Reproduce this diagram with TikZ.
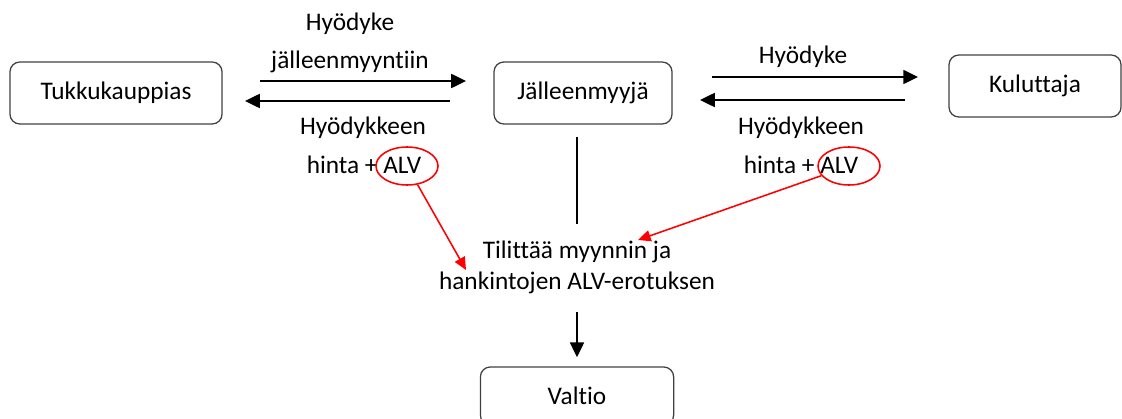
\documentclass[tikz,border=0pt]{standalone}
\usepackage{fontspec}
\setmainfont[Ligatures=NoCommon]{Carlito}
\usetikzlibrary{arrows.meta, shapes.geometric}

\tikzset{
  party/.style={draw=black!75, line width=0.9pt, rounded corners=7pt, minimum height=1.55cm, font=\fontsize{18}{22}\selectfont},
  lbl/.style={font=\fontsize{18}{22}\selectfont},
  flow/.style={-{Triangle[length=10.5pt,width=10pt]}, line width=1.1pt},
  vatring/.style={draw=red, line width=1.1pt, ellipse, minimum width=1.55cm, minimum height=0.95cm, inner sep=0pt},
  vatarrow/.style={red, line width=1.1pt, -{Triangle[length=9pt,width=8pt]}}
}

\begin{document}
\begin{tikzpicture}[x=0.025cm, y=-0.025cm]
  \useasboundingbox (0,0) rectangle (1122,419);

  \node[party, minimum width=5.3cm] at (116, 93) (tukku) {Tukkukauppias};
  \node[party, minimum width=4.45cm] at (583, 93) (jalleen) {Jälleenmyyjä};
  \node[party, minimum width=4.3cm] at (1035, 86) (kuluttaja) {Kuluttaja};
  \node[party, minimum width=4.83cm, minimum height=1.45cm] at (577, 396) (valtio) {Valtio};

  % wholesaler <-> reseller
  \node[lbl] at (350, 24) (hyo1) {Hyödyke};
  \node[lbl] at (350, 62) (myynti1) {jälleenmyyntiin};
  \node[lbl] at (363, 128) (hyok1) {Hyödykkeen};
  \node[lbl] at (364, 165) (hinta1) {hinta + ALV};
  \node[vatring] at (407, 166) (alv1) {};

  \coordinate (t1a) at (260, 81);
  \coordinate (t1b) at (466, 81);
  \coordinate (t2a) at (450, 101);
  \coordinate (t2b) at (245, 101);
  \draw[flow] (t1a) -- (t1b);
  \draw[flow] (t2a) -- (t2b);

  % reseller <-> consumer
  \node[lbl] at (803, 57) (hyo2) {Hyödyke};
  \node[lbl] at (801, 128) (hyok2) {Hyödykkeen};
  \node[lbl] at (801, 165) (hinta2) {hinta + ALV};
  \node[vatring] at (849, 166) (alv2) {};

  \coordinate (k1a) at (712, 77);
  \coordinate (k1b) at (918, 77);
  \coordinate (k2a) at (905, 100);
  \coordinate (k2b) at (700, 100);
  \draw[flow] (k1a) -- (k1b);
  \draw[flow] (k2a) -- (k2b);

  % VAT to the state
  \node[lbl, align=center] at (577, 267) (tilitys) {Tilittää myynnin ja\\hankintojen ALV-erotuksen};
  \coordinate (v1) at (577, 137);
  \coordinate (v2) at (577, 224);
  \draw[line width=1.1pt] (v1) -- (v2);
  \draw[flow, shorten <=10pt, shorten >=6.5pt] (tilitys.south) -- (valtio.north);

  \coordinate (r1) at (466, 270);
  \coordinate (r2) at (638, 240);
  \draw[vatarrow] (alv1) -- (r1);
  \draw[vatarrow] (alv2) -- (r2);
\end{tikzpicture}
\end{document}
